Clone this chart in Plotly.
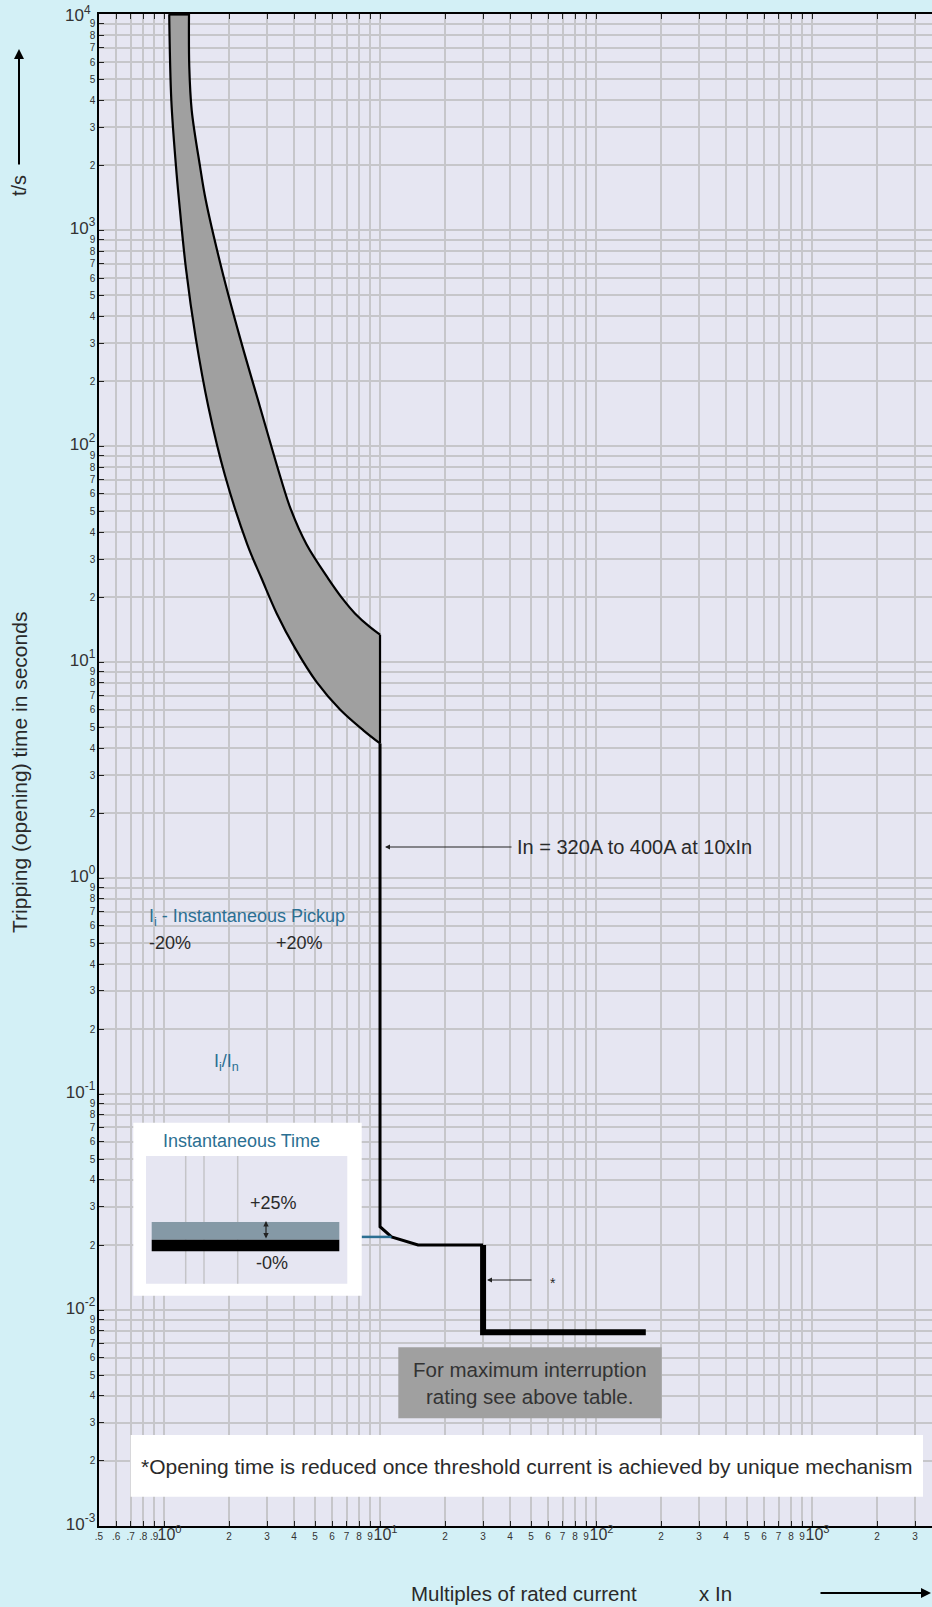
import math
import plotly.graph_objects as go

# ---------------- data ----------------
# lower (left) boundary of the thermal band: multiples of In, seconds
lower_x = [1.057, 1.081, 1.135, 1.173, 1.264, 1.402, 1.604, 1.917, 2.431, 2.833, 3.324, 4.043, 5.091, 6.528, 8.372, 10]
lower_t = [10000, 3981, 1995, 1377, 660.7, 316.9, 152.1, 72.9, 35.0, 24.3, 16.8, 11.6, 8.07, 6.03, 4.83, 4.2]
# upper (right) boundary of the thermal band
upper_x = [1.305, 1.309, 1.343, 1.469, 1.560, 1.849, 2.249, 2.780, 3.443, 3.873, 4.571, 5.768, 6.761, 7.656, 8.995, 10]
upper_t = [10000, 5702, 3597, 1963, 1377, 660.7, 316.9, 152.1, 72.9, 50.6, 35.0, 24.3, 19.45, 16.8, 14.5, 13.4]
# band top edge and right edge at 10xIn
top_x = [1.057, 1.305]
top_t = [10000, 10000]
edge_x = [10, 10]
edge_t = [4.2, 13.4]
# instantaneous trip line
trip_x = [10, 10, 11.3, 15, 30]
trip_t = [4.2, 0.0243, 0.0218, 0.02, 0.02]
# reduced opening time after threshold
fast_x = [30, 30, 170]
fast_t = [0.02, 0.0079, 0.0079]
# blue instantaneous pickup mark
blue_x = [8.2, 11.3]
blue_t = [0.0218, 0.0218]

x_decades = [-1, 0, 1, 2, 3]
y_decades = [-3, -2, -1, 0, 1, 2, 3]
mantissas = [1, 2, 3, 4, 5, 6, 7, 8, 9]

# ---------------- geometry helpers ----------------
W, H = 932, 1607
L, R, T, B = 99, 0, 14, 81
PW, PH = W - L - R, H - T - B
DEC = 216.0
XMIN = math.log10(0.5)
XMAX = XMIN + PW / DEC


def px(x):
    return (x - L) / PW


def py(y):
    return (H - B - y) / PH


FONT = "Liberation Sans, Arial, sans-serif"
BLUE = "#2b6f92"
TXT = "#2a2a2a"
PHANTOM = '<span style="font-size:10px;color:rgba(0,0,0,0)">00</span>'
BIGX = PHANTOM + '<span style="font-size:16px">10<sup>%d</sup></span>'
BIGY = '<span style="font-size:17px">10<sup>%d</sup></span>'

# ---------------- ticks ----------------
xv, xt = [], []
for k in x_decades:
    for m in mantissas:
        v = m * 10.0 ** k
        if v < 0.5 - 1e-9 or math.log10(v) > XMAX:
            continue
        xv.append(v)
        if m == 1:
            xt.append(BIGX % k)
        elif k == -1:
            xt.append("." + str(m))
        else:
            xt.append(str(m))

yv, yt = [], []
for k in y_decades:
    for m in mantissas:
        yv.append(m * 10.0 ** k)
        yt.append(BIGY % k if m == 1 else str(m))
yv.append(1e4)
yt.append(BIGY % 4)

fig = go.Figure()

# band fill (closed polygon) and its outlines
fig.add_trace(go.Scatter(x=lower_x + upper_x[::-1], y=lower_t + upper_t[::-1],
                         mode="lines", fill="toself", fillcolor="#a0a0a0",
                         line=dict(width=0), hoverinfo="skip", showlegend=False))
for xs, ts in ((lower_x, lower_t), (upper_x, upper_t)):
    fig.add_trace(go.Scatter(x=xs, y=ts, mode="lines",
                             line=dict(color="black", width=2.2, shape="spline", smoothing=1.0),
                             hoverinfo="skip", showlegend=False))
fig.add_trace(go.Scatter(x=top_x, y=top_t, mode="lines",
                         line=dict(color="black", width=3), hoverinfo="skip", showlegend=False))
fig.add_trace(go.Scatter(x=edge_x, y=edge_t, mode="lines",
                         line=dict(color="black", width=2.2), hoverinfo="skip", showlegend=False))
fig.add_trace(go.Scatter(x=trip_x, y=trip_t, mode="lines",
                         line=dict(color="black", width=3), hoverinfo="skip", showlegend=False))
fig.add_trace(go.Scatter(x=fast_x, y=fast_t, mode="lines",
                         line=dict(color="black", width=6), hoverinfo="skip", showlegend=False))
fig.add_trace(go.Scatter(x=blue_x, y=blue_t, mode="lines",
                         line=dict(color=BLUE, width=2.5), hoverinfo="skip", showlegend=False))

shapes = []


def rect(x0, y0, x1, y1, color):
    shapes.append(dict(type="rect", xref="paper", yref="paper",
                       x0=px(x0), x1=px(x1), y0=py(y1), y1=py(y0),
                       fillcolor=color, line=dict(width=0), layer="above"))


def vline(x, y0, y1, color, w):
    shapes.append(dict(type="line", xref="paper", yref="paper",
                       x0=px(x), x1=px(x), y0=py(y0), y1=py(y1),
                       line=dict(color=color, width=w), layer="above"))


# instantaneous time legend box
rect(133.3, 1122.7, 361.7, 1295.7, "white")
rect(146, 1156, 347.3, 1283.7, "#e6e6f2")
for xx in (185.7, 204, 237.7):
    vline(xx, 1156, 1283.7, "#c4c4c8", 1.5)
rect(151.7, 1222, 339.3, 1239.7, "#8599a6")
rect(151.7, 1239.7, 339.3, 1251.3, "black")
# interruption rating note
rect(398.3, 1347.3, 661.7, 1418.3, "#a0a0a0")
# footnote box
rect(130.7, 1435, 923, 1496.7, "white")

ann = []


def text(x, y, s, size=17, color=TXT, xanchor="left", angle=0):
    ann.append(dict(xref="paper", yref="paper", x=px(x), y=py(y), text=s,
                    showarrow=False, xanchor=xanchor, yanchor="middle",
                    textangle=angle, font=dict(family=FONT, size=size, color=color)))


def arrow(x_head, y_head, x_tail, y_tail, width=1, color="#222", side="end", size=1):
    ann.append(dict(xref="paper", yref="paper", x=px(x_head), y=py(y_head),
                    ax=x_tail - x_head, ay=y_tail - y_head, axref="pixel", ayref="pixel",
                    text="", showarrow=True, arrowhead=2, arrowsize=size,
                    arrowwidth=width, arrowcolor=color, arrowside=side))


# top decade label of the time axis
text(93, 14, "10<sup>4</sup>", size=17, color="#333", xanchor="right")

text(515, 847, "In = 320A to 400A at 10xIn", size=20)
arrow(385, 847, 513, 847)
text(548, 1283, "*", size=14)
arrow(487, 1280, 533, 1280)

text(146.7, 917, "I<sub>i</sub> - Instantaneous Pickup", size=18, color=BLUE)
text(146.7, 943, "-20%", size=18)
text(274, 943, "+20%", size=18)
text(226.7, 1062, "I<sub>i</sub>/I<sub>n</sub>", size=18, color=BLUE, xanchor="center")

text(241.7, 1141, "Instantaneous Time", size=18, color=BLUE, xanchor="center")
text(273.3, 1203, "+25%", size=18, xanchor="center")
text(271.7, 1263, "-0%", size=18, xanchor="center")
arrow(266, 1221, 266, 1240, width=1.2, side="end+start", size=0.9)

text(530, 1383, "For maximum interruption<br>rating see above table.", size=20.5,
     color="#333", xanchor="center")
text(527, 1466, "*Opening time is reduced once threshold current is achieved by unique mechanism",
     size=21, xanchor="center")

# axis titles
text(19, 773, "Tripping (opening) time in seconds", size=21, xanchor="center", angle=-90)
text(19, 186, "t/s", size=20, xanchor="center", angle=-90)
arrow(19, 49, 19, 166, width=2, color="black")
text(409, 1594, "Multiples of rated current", size=20.5)
text(697, 1594, "x In", size=20.5)
arrow(932, 1593, 819, 1593, width=2, color="black")

fig.update_layout(
    width=W, height=H, autosize=False,
    margin=dict(l=L, r=R, t=T, b=B, pad=0),
    paper_bgcolor="#d3f0f6", plot_bgcolor="#e6e6f2",
    font=dict(family=FONT, color=TXT),
    showlegend=False,
    shapes=shapes, annotations=ann,
)
fig.update_xaxes(type="log", range=[XMIN, XMAX], tickvals=xv, ticktext=xt,
                 ticks="inside", ticklen=5, tickcolor="#222", tickwidth=1,
                 tickfont=dict(size=10, color="#333", family=FONT), tickangle=0,
                 showgrid=True, gridcolor="#c6c6ca", gridwidth=1.5,
                 showline=True, linecolor="black", linewidth=2, mirror="ticks",
                 zeroline=False)
fig.update_yaxes(type="log", range=[-3, 4.0005], tickvals=yv, ticktext=yt,
                 ticks="inside", ticklen=5, tickcolor="#222", tickwidth=1,
                 tickfont=dict(size=10, color="#333", family=FONT),
                 showgrid=True, gridcolor="#c6c6ca", gridwidth=1.5,
                 showline=True, linecolor="black", linewidth=1.5, mirror=False,
                 zeroline=False)

fig.write_html(
    "out.html",
    config={"displayModeBar": False},
    post_script="document.body.style.margin='0';document.body.style.padding='0';"
                "document.body.style.overflow='hidden';"
                "document.documentElement.style.overflow='hidden';",
)
